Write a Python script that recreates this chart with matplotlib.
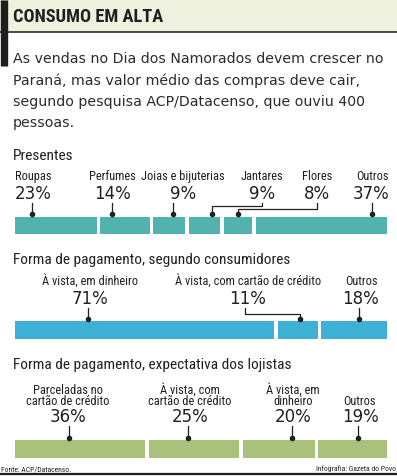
import matplotlib
matplotlib.use("Agg")
import matplotlib.pyplot as plt

W, H = 397, 476

# --- dados ---
presentes_cat = ["Roupas", "Perfumes", "Joias e bijuterias", "Jantares", "Flores", "Outros"]
presentes_pct = [23, 14, 9, 9, 8, 37]

consumidores_cat = ["À vista, em dinheiro", "À vista, com cartão de crédito", "Outros"]
consumidores_pct = [71, 11, 18]

lojistas_cat = ["Parceladas no\ncartão de crédito", "À vista, com\ncartão de crédito",
                "À vista, em\ndinheiro", "Outros"]
lojistas_pct = [36, 25, 20, 19]

titulo = "CONSUMO EM ALTA"
texto = ["As vendas no Dia dos Namorados devem crescer no",
         "Paraná, mas valor médio das compras deve cair,",
         "segundo pesquisa ACP/Datacenso, que ouviu 400",
         "pessoas."]
fonte = "Fonte: ACP/Datacenso."
credito = "Infografia: Gazeta do Povo"

# --- estilo ---
TXT = "#231f20"
NARROW = ["Roboto Condensed", "DejaVu Sans Condensed", "Liberation Sans Narrow",
          "Roboto", "DejaVu Sans"]
WIDE = ["DejaVu Sans"]

fig = plt.figure(figsize=(W / 100, H / 100), dpi=100)
ax = fig.add_axes([0, 0, 1, 1])
ax.set_xlim(0, W)
ax.set_ylim(H, 0)
ax.axis("off")

# cabeçalho
ax.axhspan(0, 31, color="#eef1dd", zorder=0)
ax.plot([0, W], [31.5, 31.5], color="#3a3a3a", lw=1.3, solid_capstyle="butt")
ax.plot([3.5, 3.5], [0, 66], color="#1e1e1e", lw=5.3, solid_capstyle="butt")
ax.text(13, 21.7, titulo, family=NARROW, weight="bold", fontsize=13.2,
        color=TXT, va="baseline")
for i, linha in enumerate(texto):
    ax.text(13, [63, 85, 106, 127][i], linha, family=WIDE, fontsize=10.2,
            color="#2b2b2b", va="baseline")


def draw_section(title, title_y, cats, pcts, color, bar_top, label_x, label_base,
                 pct_base, lead_x, dot_x, elbow_y, ha):
    x0, x1, gap = 15, 387, 3.5
    n = len(pcts)
    usable = (x1 - x0) - gap * (n - 1)
    widths = [p / sum(pcts) * usable for p in pcts]
    lefts = []
    pos = x0
    for w in widths:
        lefts.append(pos)
        pos += w + gap
    bar_h = 17.5
    ax.barh([bar_top + bar_h / 2] * n, widths, left=lefts, height=bar_h,
            color=color, zorder=2)

    ax.text(13, title_y, title, family=NARROW, fontsize=11.1, color=TXT,
            va="baseline")
    for i in range(n):
        lines = cats[i].split("\n")
        for k, ln in enumerate(reversed(lines)):
            ax.text(label_x[i], label_base - k * 11.5, ln, family=NARROW,
                    fontsize=8.9, color=TXT, ha=ha[i], va="baseline")
        ax.text(label_x[i], pct_base, f"{pcts[i]}%", family=WIDE, fontsize=12,
                color=TXT, ha=ha[i], va="baseline")
        y_start = pct_base + 4
        y_dot = bar_top - 2.5
        if elbow_y[i] is None:
            xs, ys = [lead_x[i], lead_x[i]], [y_start, y_dot]
        else:
            xs = [lead_x[i], lead_x[i], dot_x[i], dot_x[i]]
            ys = [y_start, elbow_y[i], elbow_y[i], y_dot]
        ax.plot(xs, ys, color=TXT, lw=0.9, zorder=3)
        ax.plot([dot_x[i]], [y_dot], "o", color=TXT, ms=3, zorder=4)


draw_section("Presentes", 160, presentes_cat, presentes_pct, "#52b2ae", 216.7,
             label_x=[15, 112, 183, 262, 317, 389],
             label_base=180, pct_base=199,
             lead_x=[32, 112, 173, 262, 317, 372],
             dot_x=[32, 112, 173, 212, 238, 372],
             elbow_y=[None, None, None, 205.7, 209, None],
             ha=["left", "center", "center", "center", "center", "right"])

draw_section("Forma de pagamento, segundo consumidores", 264, consumidores_cat,
             consumidores_pct, "#3cb1d5", 321,
             label_x=[90, 248, 361],
             label_base=285, pct_base=304.3,
             lead_x=[88, 245, 359],
             dot_x=[88, 300, 359],
             elbow_y=[None, 314, None],
             ha=["center"] * 3)

draw_section("Forma de pagamento, expectativa dos lojistas", 369, lojistas_cat,
             lojistas_pct, "#a8c27b", 440,
             label_x=[68, 190, 293, 360],
             label_base=405, pct_base=422.3,
             lead_x=[69, 188, 292, 358],
             dot_x=[69, 188, 292, 358],
             elbow_y=[None] * 4,
             ha=["center"] * 4)

# rodapé
ax.text(1, 471, fonte, family=NARROW, fontsize=5.5, color=TXT, va="baseline")
ax.text(396, 471, credito, family=NARROW, fontsize=5.5, color=TXT, ha="right",
        va="baseline")
ax.plot([0, W], [474, 474], color="#1e1e1e", lw=1.6, solid_capstyle="butt")

fig.savefig("out.png", dpi=100)
